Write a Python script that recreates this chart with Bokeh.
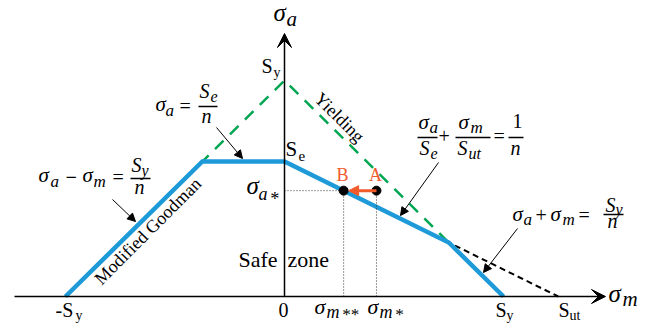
from math import pi, sin, cos

from bokeh.plotting import figure
from bokeh.models import Range1d, Arrow, NormalHead, VeeHead
from bokeh.core.properties import value
from bokeh.embed import file_html
from bokeh.resources import INLINE

# Material strengths (normalised by the yield strength)
S_y = 1.0      # yield strength
S_e = 0.625    # endurance limit
S_ut = 1.25    # ultimate tensile strength

# Operating point A and its projection B onto the Goodman line
sigma_a_star = 0.49
sigma_m_star = 0.42

# Derived geometry of the failure envelope
sigma_m_2star = S_ut * (1 - sigma_a_star / S_e)
knee_m = (S_y - S_e) / (1 - S_e / S_ut)
knee_a = S_y - knee_m

yield_m = [-S_y, 0, S_y]
yield_a = [0, S_y, 0]
goodman_m = [0, S_ut]
goodman_a = [S_e, 0]
env_m = [-S_y, S_e - S_y, 0, knee_m, S_y]
env_a = [0, S_e, S_e, knee_a, 0]

BLUE = "#1f9ad8"
GREEN = "#00a651"
RED = "#f15a2b"

W, H = 653, 325
OX, OY = 284, 296      # canvas position of the origin
KX, KY = 219, 216      # pixels per unit stress


def X(px):
    return (px - OX) / KX


def Y(py):
    return (OY - py) / KY


p = figure(width=W, height=H, x_range=Range1d(X(0), X(W)), y_range=Range1d(Y(H), Y(0)),
           output_backend="svg", toolbar_location=None, min_border=0,
           x_axis_type=None, y_axis_type=None, outline_line_color=None)
p.grid.visible = False

SERIF = value("Liberation Serif")


def put(txt, x, y, size, style="normal", color="black", align="left", angle=0.0):
    # the text box sits a little low on its alphabetic baseline; lift it
    # along the text's own "up" direction
    lift = 0.4 * size
    ax = x - lift * sin(angle)
    ay = y - lift * cos(angle)
    p.text(x=[X(ax)], y=[Y(ay)], text=[txt], text_font=SERIF,
           text_font_size=f"{size}px", text_font_style=style, text_color=color,
           text_align=align, text_baseline="alphabetic", angle=angle)


def bar(x0, x1, y):
    p.line([X(x0), X(x1)], [Y(y), Y(y)], line_color="black", line_width=1.5)


def pointer(x0, y0, x1, y1):
    p.add_layout(Arrow(end=NormalHead(size=8, fill_color="black", line_color="black"),
                       x_start=X(x0), y_start=Y(y0), x_end=X(x1), y_end=Y(y1),
                       line_color="black", line_width=1))


# Coordinate axes with arrow heads
p.add_layout(Arrow(end=VeeHead(size=14, fill_color="black", line_color="black"),
                   x_start=X(14), y_start=0, x_end=X(605), y_end=0,
                   line_color="black", line_width=1.5))
p.add_layout(Arrow(end=VeeHead(size=14, fill_color="black", line_color="black"),
                   x_start=0, y_start=0, x_end=0, y_end=Y(33),
                   line_color="black", line_width=1.5))

# Yield lines and Goodman line, envelope on top
p.line(yield_m, yield_a, line_color=GREEN, line_width=2.5, line_dash="12 9")
p.line(goodman_m, goodman_a, line_color="black", line_width=2, line_dash="6 4")
p.line(env_m, env_a, line_color=BLUE, line_width=4.5, line_join="miter")

# Projection lines of the operating points
p.line([0, sigma_m_2star], [sigma_a_star, sigma_a_star], line_color="#333333",
       line_width=1, line_dash="1 2")
p.line([sigma_m_2star, sigma_m_2star], [0, sigma_a_star], line_color="#333333",
       line_width=1, line_dash="1 2")
p.line([sigma_m_star, sigma_m_star], [0, sigma_a_star], line_color="#333333",
       line_width=1, line_dash="1 2")

# Move from A to B
p.add_layout(Arrow(end=NormalHead(size=10, fill_color=RED, line_color=RED),
                   x_start=sigma_m_star, y_start=sigma_a_star,
                   x_end=sigma_m_2star + 5 / KX, y_end=sigma_a_star,
                   line_color=RED, line_width=3))
p.scatter([sigma_m_2star, sigma_m_star], [sigma_a_star, sigma_a_star], size=9,
          color="black")
put("B", 342, 182, 18, color=RED, align="center")
put("A", 375, 182, 18, color=RED, align="center")

# Axis titles
put("σ", 273, 22, 25, "italic")
put("a", 286, 27, 21, "italic")
put("σ", 608, 303, 25, "italic")
put("m", 622, 307, 21, "italic")

# Marks on the vertical axis
put("S", 261, 73, 20)
put("y", 273, 78, 14)
put("S", 285, 157, 21)
put("e", 298, 161, 15)
put("σ", 246, 195, 25, "italic")
put("a", 258, 201, 18, "italic")
put("*", 269, 206, 18, "italic")

# Marks on the horizontal axis
put("-S", 55, 317, 20)
put("y", 75, 321, 14)
put("0", 283, 317, 20, align="center")
put("σ", 314, 315, 22, "italic")
put("m", 326, 319, 18, "italic")
put("**", 341, 321, 17, "italic")
put("σ", 367, 315, 22, "italic")
put("m", 379, 319, 18, "italic")
put("*", 394, 321, 17, "italic")
put("S", 495, 317, 20)
put("y", 506, 321, 14)
put("S", 558, 317, 20)
put("ut", 569, 321, 14)

# Region and line names
put("Safe", 238, 268, 22)
put("zone", 287, 268, 22)
put("Modified Goodman", 102, 286, 18, angle=pi / 4)
put("Yielding", 312, 100, 18, angle=-pi / 4)

# sigma_a = S_e / n
put("σ", 155, 112, 21, "italic")
put("a", 165, 117, 17, "italic")
put("=", 179, 113, 20)
put("S", 199, 98, 20, "italic")
put("e", 210, 102, 16, "italic")
bar(198, 217, 106)
put("n", 201, 123, 20, "italic")
pointer(216, 127, 242, 158)

# sigma_a - sigma_m = S_y / n
put("σ", 38, 183, 21, "italic")
put("a", 50, 188, 17, "italic")
put("−", 65, 184, 20, "bold")
put("σ", 82, 183, 21, "italic")
put("m", 93, 188, 17, "italic")
put("=", 112, 184, 20)
put("S", 131, 172, 20, "italic")
put("y", 141, 176, 16, "italic")
bar(130, 150, 178)
put("n", 134, 194, 20, "italic")
pointer(112, 199, 135, 221)

# sigma_a / S_e + sigma_m / S_ut = 1 / n
put("σ", 418, 130, 21, "italic")
put("a", 429, 134, 17, "italic")
bar(417, 437, 137)
put("S", 419, 155, 20, "italic")
put("e", 430, 159, 16, "italic")
put("+", 438, 143, 20)
put("σ", 458, 130, 21, "italic")
put("m", 470, 134, 17, "italic")
bar(455, 490, 137)
put("S", 457, 155, 20, "italic")
put("ut", 468, 159, 16, "italic")
put("=", 493, 143, 20)
put("1", 512, 128, 20)
bar(508, 523, 137)
put("n", 510, 155, 20, "italic")
pointer(438, 162, 400, 215)

# sigma_a + sigma_m = S_y / n
put("σ", 512, 222, 21, "italic")
put("a", 523, 226, 17, "italic")
put("+", 535, 222, 20)
put("σ", 550, 222, 21, "italic")
put("m", 562, 226, 17, "italic")
put("=", 578, 222, 20)
put("S", 605, 212, 20, "italic")
put("y", 615, 215, 16, "italic")
bar(603, 623, 214)
put("n", 607, 228, 20, "italic")
pointer(517, 228, 483, 272)

open("out.html", "w").write(file_html(p, INLINE))
